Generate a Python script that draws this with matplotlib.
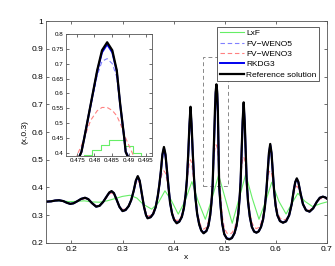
import matplotlib
matplotlib.use("Agg")
import matplotlib.pyplot as plt
from matplotlib.ticker import FuncFormatter
from matplotlib.patches import Rectangle

# shared x grid for the high-order solutions
x_grid = [0.150, 0.160, 0.168, 0.176, 0.184, 0.191, 0.1976, 0.204, 0.211, 0.219,
          0.2266, 0.233, 0.240, 0.2483, 0.2550, 0.2620, 0.2690, 0.2740, 0.2785, 0.2830,
          0.2880, 0.2940, 0.3000, 0.3060, 0.3120, 0.3170, 0.3220, 0.3260, 0.3298, 0.3335,
          0.3375, 0.3420, 0.3460, 0.3490, 0.3550, 0.3600, 0.3650, 0.3690, 0.3720, 0.3750,
          0.3780, 0.3810, 0.3840, 0.3870, 0.3900, 0.3930, 0.3970, 0.4010, 0.4060, 0.4110,
          0.4160, 0.4200, 0.4235, 0.4260, 0.4285, 0.4310, 0.4330, 0.4350, 0.4375, 0.4400,
          0.4425, 0.4460, 0.4500, 0.4540, 0.4586, 0.4640, 0.4680, 0.4715, 0.4740, 0.4762,
          0.4770, 0.4789, 0.4808, 0.4822, 0.4837, 0.4852, 0.4865, 0.4875, 0.4887, 0.4891,
          0.4920, 0.4950, 0.4990, 0.5040, 0.5090, 0.5140, 0.5190, 0.5230, 0.5265, 0.5290,
          0.5310, 0.5330, 0.5350, 0.5370, 0.5390, 0.5410, 0.5430, 0.5455, 0.5490, 0.5530,
          0.5575, 0.5620, 0.5665, 0.5710, 0.5750, 0.5785, 0.5815, 0.5840, 0.5865, 0.5890,
          0.5915, 0.5940, 0.5965, 0.5995, 0.6030, 0.6080, 0.6140, 0.6200, 0.6260, 0.6310,
          0.6350, 0.6380, 0.6410, 0.6440, 0.6480, 0.6530, 0.6590, 0.6660, 0.6730, 0.6800,
          0.6860, 0.6920, 0.6970, 0.7000]

ref_y = [0.349, 0.350, 0.353, 0.354, 0.351, 0.345, 0.341, 0.343, 0.350, 0.359,
         0.363, 0.358, 0.344, 0.331, 0.334, 0.348, 0.368, 0.382, 0.387, 0.380,
         0.358, 0.330, 0.315, 0.319, 0.333, 0.355, 0.390, 0.425, 0.441, 0.425,
         0.380, 0.330, 0.300, 0.289, 0.293, 0.305, 0.330, 0.370, 0.410, 0.460,
         0.520, 0.546, 0.520, 0.460, 0.400, 0.345, 0.305, 0.283, 0.271, 0.277,
         0.294, 0.325, 0.375, 0.430, 0.520, 0.630, 0.691, 0.630, 0.520, 0.430,
         0.365, 0.305, 0.267, 0.245, 0.235, 0.243, 0.262, 0.300, 0.345, 0.404,
         0.449, 0.564, 0.678, 0.745, 0.772, 0.745, 0.678, 0.564, 0.449, 0.404,
         0.330, 0.270, 0.232, 0.216, 0.213, 0.218, 0.235, 0.262, 0.305, 0.360,
         0.420, 0.530, 0.640, 0.707, 0.640, 0.530, 0.420, 0.350, 0.295, 0.258,
         0.241, 0.237, 0.242, 0.258, 0.285, 0.330, 0.390, 0.460, 0.525, 0.557,
         0.525, 0.460, 0.390, 0.335, 0.300, 0.279, 0.273, 0.278, 0.300, 0.340,
         0.390, 0.420, 0.433, 0.420, 0.382, 0.340, 0.318, 0.313, 0.325, 0.348,
         0.363, 0.367, 0.364, 0.360]

rkdg3_y = [0.349, 0.350, 0.353, 0.354, 0.351, 0.345, 0.341, 0.343, 0.350, 0.359,
           0.363, 0.358, 0.344, 0.331, 0.334, 0.348, 0.368, 0.381, 0.386, 0.380,
           0.358, 0.330, 0.315, 0.319, 0.333, 0.355, 0.389, 0.423, 0.439, 0.423,
           0.380, 0.330, 0.300, 0.290, 0.293, 0.305, 0.330, 0.370, 0.409, 0.458,
           0.516, 0.542, 0.516, 0.458, 0.400, 0.345, 0.305, 0.283, 0.272, 0.277,
           0.294, 0.325, 0.375, 0.429, 0.517, 0.624, 0.685, 0.624, 0.517, 0.429,
           0.365, 0.305, 0.267, 0.245, 0.236, 0.243, 0.262, 0.300, 0.345, 0.404,
           0.449, 0.562, 0.674, 0.738, 0.765, 0.738, 0.674, 0.562, 0.449, 0.404,
           0.330, 0.270, 0.232, 0.216, 0.214, 0.218, 0.235, 0.262, 0.305, 0.360,
           0.420, 0.527, 0.634, 0.700, 0.634, 0.527, 0.420, 0.350, 0.295, 0.258,
           0.241, 0.238, 0.242, 0.258, 0.285, 0.330, 0.390, 0.458, 0.522, 0.553,
           0.522, 0.458, 0.390, 0.335, 0.300, 0.279, 0.274, 0.278, 0.300, 0.340,
           0.389, 0.419, 0.431, 0.419, 0.382, 0.340, 0.318, 0.313, 0.325, 0.348,
           0.363, 0.367, 0.364, 0.360]

weno5_y = [0.349, 0.350, 0.353, 0.354, 0.351, 0.345, 0.342, 0.344, 0.350, 0.358,
           0.362, 0.357, 0.344, 0.333, 0.336, 0.348, 0.367, 0.380, 0.385, 0.378,
           0.358, 0.332, 0.318, 0.322, 0.335, 0.356, 0.388, 0.422, 0.436, 0.422,
           0.380, 0.332, 0.303, 0.292, 0.296, 0.308, 0.333, 0.370, 0.408, 0.452,
           0.505, 0.525, 0.505, 0.452, 0.398, 0.347, 0.308, 0.286, 0.274, 0.280,
           0.297, 0.328, 0.376, 0.428, 0.508, 0.600, 0.655, 0.600, 0.508, 0.428,
           0.366, 0.308, 0.270, 0.248, 0.239, 0.246, 0.265, 0.303, 0.348, 0.404,
           0.448, 0.560, 0.660, 0.708, 0.717, 0.700, 0.655, 0.565, 0.455, 0.412,
           0.335, 0.274, 0.235, 0.219, 0.217, 0.221, 0.238, 0.265, 0.308, 0.362,
           0.420, 0.515, 0.610, 0.675, 0.610, 0.515, 0.420, 0.352, 0.298, 0.261,
           0.244, 0.240, 0.245, 0.261, 0.288, 0.332, 0.390, 0.452, 0.510, 0.540,
           0.510, 0.452, 0.390, 0.337, 0.303, 0.282, 0.276, 0.281, 0.302, 0.340,
           0.388, 0.416, 0.428, 0.416, 0.380, 0.340, 0.319, 0.314, 0.326, 0.347,
           0.362, 0.366, 0.363, 0.360]

weno3_y = [0.349, 0.350, 0.352, 0.353, 0.351, 0.346, 0.342, 0.344, 0.350, 0.357,
           0.360, 0.356, 0.345, 0.334, 0.336, 0.348, 0.365, 0.377, 0.380, 0.375,
           0.357, 0.333, 0.320, 0.323, 0.336, 0.356, 0.385, 0.415, 0.425, 0.415,
           0.380, 0.337, 0.308, 0.297, 0.300, 0.312, 0.336, 0.370, 0.400, 0.432,
           0.455, 0.460, 0.452, 0.425, 0.385, 0.345, 0.312, 0.290, 0.280, 0.285,
           0.302, 0.333, 0.375, 0.415, 0.460, 0.492, 0.500, 0.490, 0.455, 0.410,
           0.365, 0.315, 0.280, 0.258, 0.250, 0.256, 0.278, 0.320, 0.370, 0.425,
           0.450, 0.510, 0.542, 0.553, 0.553, 0.543, 0.525, 0.500, 0.465, 0.450,
           0.375, 0.300, 0.255, 0.236, 0.232, 0.236, 0.252, 0.280, 0.325, 0.375,
           0.420, 0.470, 0.500, 0.510, 0.500, 0.470, 0.420, 0.365, 0.310, 0.275,
           0.256, 0.252, 0.256, 0.272, 0.300, 0.340, 0.390, 0.430, 0.455, 0.460,
           0.452, 0.425, 0.385, 0.345, 0.313, 0.290, 0.282, 0.286, 0.305, 0.340,
           0.378, 0.398, 0.405, 0.398, 0.372, 0.340, 0.323, 0.318, 0.328, 0.347,
           0.358, 0.362, 0.360, 0.358]

lxf_x = [0.150, 0.165, 0.180, 0.195, 0.210, 0.225, 0.240, 0.255, 0.270, 0.285,
         0.300, 0.314, 0.328, 0.340, 0.357, 0.370, 0.383, 0.395, 0.409, 0.422,
         0.4357, 0.448, 0.462, 0.475, 0.488, 0.501, 0.5146, 0.528, 0.541, 0.554,
         0.567, 0.580, 0.592, 0.606, 0.620, 0.632, 0.643, 0.657, 0.672, 0.688, 0.702]
lxf_y = [0.349, 0.351, 0.352, 0.349, 0.350, 0.352, 0.348, 0.347, 0.352, 0.360,
         0.368, 0.372, 0.362, 0.340, 0.322, 0.345, 0.388, 0.355, 0.304, 0.350,
         0.421, 0.350, 0.2855, 0.360, 0.445, 0.360, 0.271, 0.360, 0.448, 0.360,
         0.2855, 0.350, 0.419, 0.350, 0.3045, 0.345, 0.379, 0.350, 0.331, 0.342, 0.349]

# LxF cell values inside the zoom window
lxf_zoom_x = [0.4758, 0.4782, 0.4806, 0.4830, 0.4853, 0.4877, 0.4901, 0.4925, 0.4949, 0.4973]
lxf_zoom_y = [0.375, 0.392, 0.410, 0.428, 0.445, 0.443, 0.424, 0.400, 0.385, 0.370]

x_ticks = [0.2, 0.3, 0.4, 0.5, 0.6, 0.7]
y_ticks = [0.2, 0.3, 0.4, 0.5, 0.6, 0.7, 0.8, 0.9, 1.0]
inset_x_ticks = [0.475, 0.48, 0.485, 0.49, 0.495]
inset_y_ticks = [0.4, 0.45, 0.5, 0.55, 0.6, 0.65, 0.7, 0.75, 0.8]
labels = ["LxF", "FV\u2212WENO5", "FV\u2212WENO3", "RKDG3", "Reference solution"]

plt.rcParams['font.family'] = ['Liberation Sans', 'DejaVu Sans']

fig = plt.figure(figsize=(3.35, 2.66), dpi=100)
ax = fig.add_axes([0.137, 0.0865, 0.839, 0.8345])

c_lxf = '#66ee66'
c_w5 = '#8080ff'
c_w3 = '#ff8080'


def draw(a, zoom=False):
    if zoom:
        a.plot(lxf_zoom_x, lxf_zoom_y, color=c_lxf, lw=0.8, drawstyle='steps-mid')
    else:
        a.plot(lxf_x, lxf_y, color=c_lxf, lw=0.8, label=labels[0])
    a.plot(x_grid, weno5_y, color=c_w5, lw=0.8, ls=(0, (4, 2.5)), label=labels[1])
    a.plot(x_grid, weno3_y, color=c_w3, lw=0.8, ls=(0, (4, 2.5)), label=labels[2])
    a.plot(x_grid, rkdg3_y, color='#0000ee', lw=1.4, label=labels[3])
    a.plot(x_grid, ref_y, color='black', lw=1.6, label=labels[4])


draw(ax)
ax.set_xlim(0.15, 0.7)
ax.set_ylim(0.2, 1.0)
ax.set_xticks(x_ticks)
ax.set_yticks(y_ticks)
fmt = FuncFormatter(lambda v, p: ('%g' % v))
ax.xaxis.set_major_formatter(fmt)
ax.yaxis.set_major_formatter(fmt)
ax.tick_params(direction='in', top=True, right=True, labelsize=6, length=2.5,
               width=0.5, pad=2, colors='#333333', labelcolor='black')
for s in ax.spines.values():
    s.set_linewidth(0.6)
    s.set_color('#555555')
ax.set_xlabel('x', fontsize=6, labelpad=1)
ax.set_ylabel('(x,0.3)', fontsize=6, labelpad=2)

ax.add_patch(Rectangle((0.4575, 0.405), 0.049, 0.465, fill=False, ls=(0, (4, 3)),
                       ec='#888888', lw=0.7, zorder=1))

leg = ax.legend(loc='upper right', bbox_to_anchor=(319 / 335, 1 - 27 / 266),
                bbox_transform=fig.transFigure, borderaxespad=0.0,
                fontsize=6, handlelength=2.9, handletextpad=0.25,
                borderpad=0.3, labelspacing=0.3, frameon=True, fancybox=False)
leg.get_frame().set_edgecolor('#444444')
leg.get_frame().set_linewidth(0.6)
leg.get_frame().set_alpha(1.0)

ins = fig.add_axes([0.197, 0.4135, 0.257, 0.459])
draw(ins, zoom=True)
ins.set_xlim(0.4717, 0.4968)
ins.set_ylim(0.39, 0.8)
ins.set_xticks(inset_x_ticks)
ins.set_yticks(inset_y_ticks)
ins.xaxis.set_major_formatter(fmt)
ins.yaxis.set_major_formatter(fmt)
ins.tick_params(direction='in', top=True, right=True, labelsize=4.5, length=2,
                width=0.5, pad=1.5, colors='#333333', labelcolor='black')
for s in ins.spines.values():
    s.set_linewidth(0.6)
    s.set_color('#555555')

fig.savefig('out.png', dpi=100)
